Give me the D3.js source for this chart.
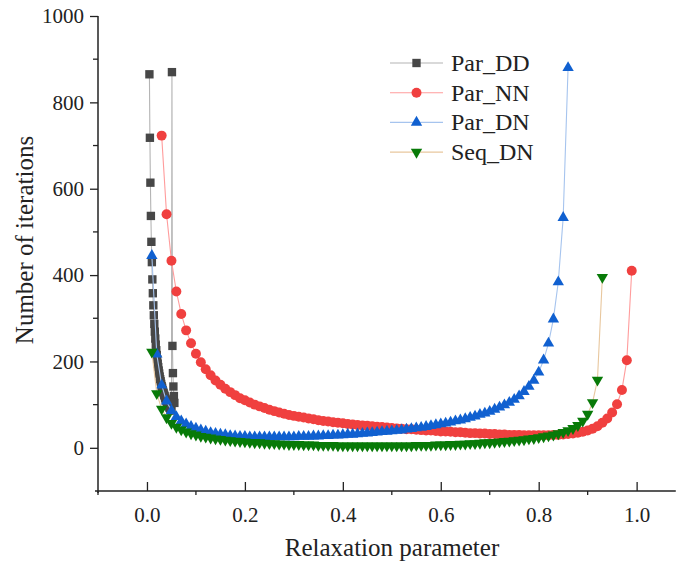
<!DOCTYPE html>
<html>
<head>
<meta charset="utf-8">
<script src="https://cdn.jsdelivr.net/npm/d3@7/dist/d3.min.js"></script>
<style>
  body { margin: 0; background: #fff; }
</style>
</head>
<body>
<svg id="chart" width="677" height="564" font-family="Liberation Serif"></svg>
<script>
// relaxation parameter grids
const xDD = d3.range(5, 51).map(n => n / 1000).concat(d3.range(51, 57).map(n => n / 1000));
const xNN = d3.range(3, 100).map(n => n / 100);
const xDN = d3.range(1, 87).map(n => n / 100);
const xSeq = d3.range(1, 94).map(n => n / 100);

// number of iterations
const parDD = [865, 718, 614, 537, 477, 430, 390, 358, 330, 307, 287, 269, 253, 239, 226, 215,
	205, 195, 187, 179, 172, 165, 159, 154, 148, 143, 139, 134, 130, 127, 123, 120, 116, 113,
	110, 108, 105, 102, 100, 98, 96, 93, 92, 90, 88, 86,
	870, 236, 173, 142, 120, 104];
const parNN = [723, 541, 433, 362, 310, 272, 242, 218, 198, 182, 168, 156, 146, 137, 129, 122,
	115, 110, 105, 100, 96, 92, 88, 85, 82, 79, 76, 74, 72, 70, 68, 66, 64, 62, 61, 59, 58, 57,
	55, 54, 53, 52, 51, 50, 49, 48, 47, 46, 45, 44, 43, 43, 42, 41, 40, 40, 39, 38, 38, 37, 36,
	36, 35, 34, 34, 33, 33, 32, 32, 31, 31, 30, 30, 30, 29, 29, 29, 29, 29, 29, 30, 30, 31, 32,
	33, 35, 37, 40, 44, 50, 58, 68, 82, 101, 134, 203, 410];
const parDN = [445, 217, 145, 108, 86, 72, 62, 55, 49, 45, 41, 38, 35, 33, 31, 30, 28, 27, 26,
	26, 25, 25, 25, 25, 25, 25, 25, 25, 25, 25, 26, 26, 26, 27, 27, 28, 28, 29, 29, 30, 31, 31,
	32, 33, 34, 35, 36, 37, 38, 39, 40, 41, 43, 44, 46, 47, 49, 51, 53, 55, 57, 59, 62, 64, 67,
	70, 73, 77, 80, 84, 89, 94, 99, 105, 112, 120, 130, 142, 156, 175, 203, 242, 298, 384, 533, 880];
const seqDN = [222, 126, 90, 70, 57, 48, 42, 37, 33, 30, 27, 25, 23, 21, 20, 18, 17, 16, 15, 14,
	13, 12, 12, 11, 10, 10, 9, 9, 8, 8, 8, 7, 7, 7, 6, 6, 6, 6, 5, 5, 5, 5, 5, 5, 5, 5, 5, 5, 5,
	5, 5, 5, 5, 5, 6, 6, 6, 6, 7, 7, 7, 8, 8, 9, 9, 10, 10, 11, 12, 12, 13, 14, 15, 16, 17, 18,
	19, 21, 22, 24, 26, 28, 30, 33, 36, 40, 45, 52, 62, 78, 105, 157, 395];

const seriesNames = ["Par_DD", "Par_NN", "Par_DN", "Seq_DN"];
const xTicks = [0, 0.2, 0.4, 0.6, 0.8, 1.0];
const yTicks = [0, 200, 400, 600, 800, 1000];

const series = [
	{name: seriesNames[0], xs: xDD, ys: parDD, line: "#b4b4b4", fill: "#474747", sym: d3.symbolSquare, size: 70, rot: 0},
	{name: seriesNames[1], xs: xNN, ys: parNN, line: "#ff9c9c", fill: "#f0403f", sym: d3.symbolCircle, size: 78, rot: 0},
	{name: seriesNames[2], xs: xDN, ys: parDN, line: "#a6c4ee", fill: "#1060d0", sym: d3.symbolTriangle, size: 56, rot: 0},
	{name: seriesNames[3], xs: xSeq, ys: seqDN, line: "#e8c79e", fill: "#087a08", sym: d3.symbolTriangle, size: 56, rot: 180}
];

const svg = d3.select("#chart");

const x = d3.scaleLinear().domain([-0.1, 1.08]).range([98, 675.8]);
const y = d3.scaleLinear().domain([-100, 1000]).range([491, 16]);

// curves
series.forEach(s => {
	const pts = s.xs.map((v, i) => [v, s.ys[i]]);
	svg.append("path")
		.datum(pts)
		.attr("fill", "none")
		.attr("stroke", s.line)
		.attr("stroke-width", 1.1)
		.attr("d", d3.line().x(d => x(d[0])).y(d => y(d[1])));
	svg.append("g")
		.selectAll("path")
		.data(pts)
		.enter().append("path")
			.attr("transform", d => `translate(${x(d[0])},${y(d[1])}) rotate(${s.rot})`)
			.attr("d", d3.symbol().type(s.sym).size(s.size))
			.attr("fill", s.fill);
});

// axes
const xAxis = svg.append("g").attr("transform", `translate(0,${y(-100)})`);
xAxis.call(d3.axisBottom(x).tickValues(xTicks).tickSize(-9).tickFormat(d3.format(".1f")).tickPadding(16))
	.call(g => g.select(".domain").remove())
	.attr("font-family", "Liberation Serif")
	.attr("font-size", 21);
xAxis.selectAll(".tick line").attr("stroke", "#222").attr("stroke-width", 1.3);
xAxis.selectAll(".tick text").attr("fill", "#222");
xAxis.selectAll(".minor")
	.data([-0.1, 0.1, 0.3, 0.5, 0.7, 0.9])
	.enter().append("line")
		.attr("x1", d => x(d)).attr("x2", d => x(d))
		.attr("y1", 0).attr("y2", 4)
		.attr("stroke", "#222").attr("stroke-width", 1.3);
xAxis.append("line")
	.attr("x1", x(-0.1) - 3).attr("x2", x(1.08))
	.attr("stroke", "#222").attr("stroke-width", 1.5);

const yAxis = svg.append("g").attr("transform", `translate(${x(-0.1)},0)`);
yAxis.call(d3.axisLeft(y).tickValues(yTicks).tickSize(8).tickPadding(6).tickFormat(d3.format("d")))
	.call(g => g.select(".domain").remove())
	.attr("font-family", "Liberation Serif")
	.attr("font-size", 21);
yAxis.selectAll(".tick line").attr("stroke", "#222").attr("stroke-width", 1.3);
yAxis.selectAll(".tick text").attr("fill", "#222");
yAxis.selectAll(".minor")
	.data([100, 300, 500, 700, 900])
	.enter().append("line")
		.attr("x1", -5).attr("x2", 0)
		.attr("y1", d => y(d)).attr("y2", d => y(d))
		.attr("stroke", "#222").attr("stroke-width", 1.3);
yAxis.append("line")
	.attr("y1", y(1000)).attr("y2", y(-100) + 2)
	.attr("stroke", "#222").attr("stroke-width", 1.5);

// axis titles
svg.append("text")
	.attr("x", 392).attr("y", 556)
	.attr("text-anchor", "middle")
	.attr("font-size", 25)
	.attr("fill", "#222")
	.text("Relaxation parameter");
svg.append("text")
	.attr("transform", "translate(33,240) rotate(-90)")
	.attr("text-anchor", "middle")
	.attr("font-size", 25)
	.attr("fill", "#222")
	.text("Number of iterations");

// legend
const legend = svg.append("g").attr("transform", "translate(390,63)");
series.forEach((s, i) => {
	const row = legend.append("g").attr("transform", `translate(0,${i * 29.7})`);
	row.append("line").attr("x1", 0).attr("x2", 53).attr("stroke", s.line).attr("stroke-width", 1.1);
	row.append("path")
		.attr("transform", `translate(26.5,0) rotate(${s.rot})`)
		.attr("d", d3.symbol().type(s.sym).size(s.size))
		.attr("fill", s.fill);
	row.append("text")
		.attr("x", 61).attr("y", 8)
		.attr("font-size", 24)
		.attr("fill", "#222")
		.text(s.name);
});
</script>
</body>
</html>
